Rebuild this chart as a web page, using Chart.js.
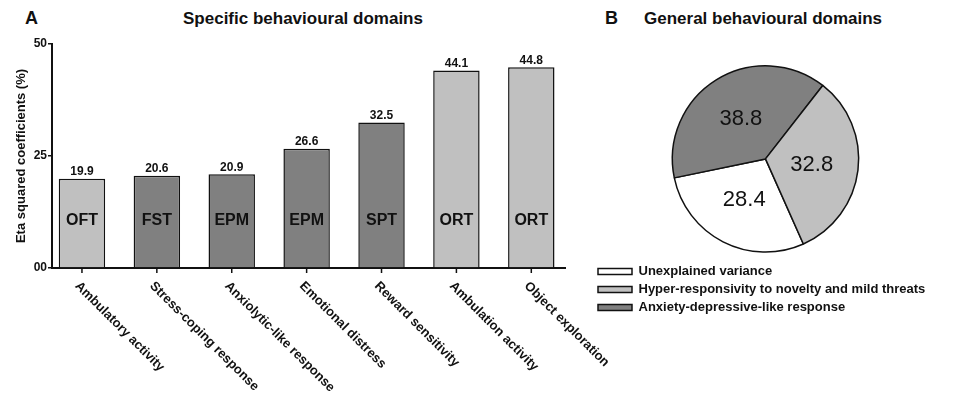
<!DOCTYPE html>
<html>
<head>
<meta charset="utf-8">
<script src="https://cdn.jsdelivr.net/npm/chart.js@4/dist/chart.umd.min.js"></script>
<style>
  body { margin: 0; background: #fff; font-family: "Liberation Sans", Arial, sans-serif; }
  #wrap { position: relative; width: 974px; height: 399px; overflow: hidden; }
  .lbl { position: absolute; font-weight: bold; color: #111; white-space: nowrap; }
  #barBox { position: absolute; left: 0; top: 0; width: 640px; height: 399px; }
  #pieBox { position: absolute; left: 593px; top: 40px; width: 381px; height: 284px; }
</style>
</head>
<body>
<div id="wrap">
  <div class="lbl" style="left:25px;top:8px;font-size:18px;">A</div>
  <div class="lbl" style="left:183px;top:9px;font-size:17px;">Specific behavioural domains</div>
  <div class="lbl" style="left:605px;top:8px;font-size:18px;">B</div>
  <div class="lbl" style="left:644px;top:9px;font-size:17px;">General behavioural domains</div>
  <div id="barBox"><canvas id="barChart"></canvas></div>
  <div id="pieBox"><canvas id="pieChart"></canvas></div>
</div>
<script>
// Panel A data
const categories = ['Ambulatory activity', 'Stress-coping response', 'Anxiolytic-like response',
  'Emotional distress', 'Reward sensitivity', 'Ambulation activity', 'Object exploration'];
const etaValues = [19.9, 20.6, 20.9, 26.6, 32.5, 44.1, 44.8];
const testNames = ['OFT', 'FST', 'EPM', 'EPM', 'SPT', 'ORT', 'ORT'];
const barDomains = ['hyper', 'anxiety', 'anxiety', 'anxiety', 'anxiety', 'hyper', 'hyper'];
const yTicks = [0, 25, 50];

// Panel B data (clockwise order)
const pieLabels = ['Unexplained variance', 'Anxiety-depressive-like response', 'Hyper-responsivity to novelty and mild threats'];
const pieValues = [28.4, 38.8, 32.8];
const legendOrder = [0, 2, 1];

const domainColor = { none: '#ffffff', hyper: '#c0c0c0', anxiety: '#808080' };
const FONT = '"Liberation Sans", Arial, sans-serif';

Chart.defaults.font.family = FONT;
Chart.defaults.color = '#111';

// x tick marks, value labels, test labels and slanted category labels
const barText = {
  id: 'barText',
  afterDatasetsDraw(chart) {
    const ctx = chart.ctx;
    const xs = chart.scales.x, ys = chart.scales.y;
    const bars = chart.getDatasetMeta(0).data;
    ctx.save();
    ctx.strokeStyle = '#111';
    ctx.lineWidth = 1.5;
    categories.forEach((c, i) => {
      const x = xs.getPixelForValue(i);
      ctx.beginPath();
      ctx.moveTo(x, ys.bottom);
      ctx.lineTo(x, ys.bottom + 5);
      ctx.stroke();
    });
    ctx.fillStyle = '#111';
    bars.forEach((bar, i) => {
      ctx.textAlign = 'center';
      ctx.textBaseline = 'bottom';
      ctx.font = 'bold 12px ' + FONT;
      ctx.fillText(etaValues[i].toFixed(1), bar.x, bar.y - 1);
      ctx.textBaseline = 'middle';
      ctx.font = 'bold 16px ' + FONT;
      ctx.fillText(testNames[i], bar.x, ys.getPixelForValue(10.5));
    });
    ctx.font = 'bold 13px ' + FONT;
    ctx.textAlign = 'left';
    ctx.textBaseline = 'middle';
    categories.forEach((c, i) => {
      const x = xs.getPixelForValue(i);
      ctx.save();
      ctx.translate(x - 5, ys.bottom + 16);
      ctx.rotate(Math.PI / 4);
      ctx.fillText(c, 0, 0);
      ctx.restore();
    });
    ctx.restore();
  }
};

new Chart(document.getElementById('barChart'), {
  type: 'bar',
  data: {
    labels: categories,
    datasets: [{
      data: etaValues,
      backgroundColor: barDomains.map(d => domainColor[d]),
      borderColor: '#111',
      borderWidth: 1.5,
      borderSkipped: 'bottom',
      categoryPercentage: 1,
      barPercentage: 0.62
    }]
  },
  options: {
    responsive: true,
    maintainAspectRatio: false,
    animation: false,
    layout: { padding: { top: 44, right: 75, left: 0, bottom: 0 } },
    plugins: { legend: { display: false }, tooltip: { enabled: false } },
    scales: {
      x: {
        offset: true,
        grid: { display: false },
        border: { display: true, color: '#111', width: 2 },
        ticks: { display: false },
        afterFit(scale) { scale.height = 131; },
        // the first bar sits a bit closer to the y axis than half a category
        afterUpdate(scale) { scale._startValue = -0.4; scale._valueRange = 6.85; }
      },
      y: {
        min: 0, max: 50,
        afterBuildTicks(scale) { scale.ticks = yTicks.map(v => ({ value: v })); },
        grid: { drawOnChartArea: false, drawTicks: true, tickLength: 4, color: '#111', lineWidth: 1.5 },
        border: { color: '#111', width: 2 },
        ticks: {
          padding: 1,
          font: { size: 12, weight: 'bold' },
          color: '#111',
          callback: v => v === 0 ? '00' : String(v)
        },
        title: {
          display: true,
          text: 'Eta squared coefficients (%)',
          font: { size: 13, weight: 'bold' },
          color: '#111',
          padding: { top: 14, bottom: 0 }
        },
        afterFit(scale) { scale.width = 52; }
      }
    }
  },
  plugins: [barText]
});

// numbers inside the slices
const pieText = {
  id: 'pieText',
  afterDatasetsDraw(chart) {
    const ctx = chart.ctx;
    ctx.save();
    ctx.font = '22px ' + FONT;
    ctx.fillStyle = '#111';
    ctx.textAlign = 'center';
    ctx.textBaseline = 'middle';
    chart.getDatasetMeta(0).data.forEach((arc, i) => {
      const p = arc.getProps(['x', 'y', 'startAngle', 'endAngle', 'outerRadius'], true);
      const a = (p.startAngle + p.endAngle) / 2;
      const r = p.outerRadius * 0.5;
      ctx.fillText(pieValues[i].toFixed(1), p.x + Math.cos(a) * r, p.y + Math.sin(a) * r);
    });
    ctx.restore();
  }
};

new Chart(document.getElementById('pieChart'), {
  type: 'pie',
  data: {
    labels: pieLabels,
    datasets: [{
      data: pieValues,
      backgroundColor: [domainColor.none, domainColor.anxiety, domainColor.hyper],
      borderColor: '#111',
      borderWidth: 1.5
    }]
  },
  options: {
    responsive: true,
    maintainAspectRatio: false,
    animation: false,
    rotation: 156,
    layout: { padding: { top: 25, right: 36, bottom: 0, left: 0 } },
    plugins: {
      tooltip: { enabled: false },
      legend: {
        position: 'bottom',
        align: 'start',
        title: { display: true, text: '', font: { size: 1 }, padding: { top: 6, bottom: 0 } },
        labels: {
          boxWidth: 34,
          boxHeight: 6,
          padding: 5,
          color: '#111',
          font: { size: 13, weight: 'bold' },
          sort: (a, b) => legendOrder.indexOf(a.index) - legendOrder.indexOf(b.index)
        }
      }
    }
  },
  plugins: [pieText]
});
</script>
</body>
</html>
